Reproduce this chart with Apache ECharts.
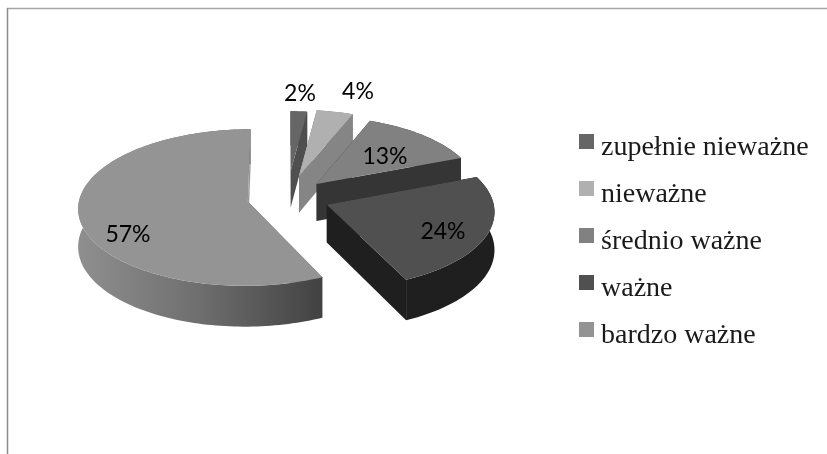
<!DOCTYPE html>
<html><head><meta charset="utf-8">
<style>html,body{margin:0;padding:0;background:#fff}#c{width:827px;height:454px}</style>
<script src="https://cdn.jsdelivr.net/npm/echarts@6/dist/echarts.min.js"></script>
</head><body><div id="c"></div>
<script>
const categories = ['zupełnie nieważne','nieważne','średnio ważne','ważne','bardzo ważne'];
const values = [2,4,13,24,57];
const labels = ['2%','4%','13%','24%','57%'];
const topColors = ['#666666','#b0b0b0','#818181','#505050','#949494'];
const wallColors = ['#4f4f4f','#858585','#353535','#1f1f1f','#555555'];
const explode = [0.35,0.29,0.25,0.25,0.235];
const radiusScale = [0.86,0.95,0.955,0.975,0.99];
const labelPos = [[300,94],[358,92],[385,157],[443,232],[128,235]];

const P = {cx:287, cy:197.5, R:170, Rv:78, k:0.0776, depth:37.5, start:0};
const total = values.reduce((a,b)=>a+b,0);
function project(X,Y,down){
  const s = 1/(1-P.k*Y);
  return [P.cx+P.R*X*s, P.cy+P.Rv*Y*s+(down?P.depth*s:0)];
}
function sliceItem(i){
  return function(params, api){
    let before = 0; for(let j=0;j<i;j++) before += values[j];
    const a0 = (P.start+before/total*360)*Math.PI/180;
    const a1 = (P.start+(before+values[i])/total*360)*Math.PI/180;
    const mid = (a0+a1)/2, e = explode[i], rs = radiusScale[i];
    const ox = Math.sin(mid)*e, oy = -Math.cos(mid)*e;
    const pt = (a,r,down)=>project(ox+Math.sin(a)*r*rs, oy-Math.cos(a)*r*rs, down);
    const n = Math.max(4,Math.ceil((a1-a0)*40));
    const arcTop=[],arcBot=[];
    for(let t=0;t<=n;t++){const a=a0+(a1-a0)*t/n;arcTop.push(pt(a,1,false));arcBot.push(pt(a,1,true));}
    const apexT = pt(0,0,false), apexB = pt(0,0,true);
    const wall = wallColors[i];
    let outerFill = wall;
    if(i===4) outerFill = {type:'linear',x:0,y:0,x2:1,y2:0,colorStops:[{offset:0,color:'#8f8f8f'},{offset:0.5,color:'#6e6e6e'},{offset:1,color:'#424242'}]};
    const poly=(points,fill)=>({type:'polygon',shape:{points},style:{fill,stroke:null},silent:true});
    const children=[
      poly([apexT,arcTop[0],arcBot[0],apexB],wall),
      poly(arcTop.concat(arcBot.slice().reverse()),outerFill),
      poly([apexT,arcTop[n],arcBot[n],apexB],i===4?'#999999':wall),
      poly([apexT].concat(arcTop),topColors[i])
    ];
    children.push({type:'text',silent:true,z2:100,style:{x:labelPos[i][0],y:labelPos[i][1],text:labels[i],fill:'#000',font:'23px Lato',align:'center',verticalAlign:'middle'}});
    return {type:'group',children};
  };
}
const chart = echarts.init(document.getElementById('c'),null,{renderer:'canvas'});
chart.setOption({
  animation:false,
  backgroundColor:'#fff',
  legend:{
    orient:'vertical',left:579,top:134,itemWidth:15,itemHeight:28,itemGap:19,
    icon:'path://M0 0H15V15H0Z M0 28H0.01V28Z',padding:0,selectedMode:false,
    data:categories,
    textStyle:{fontFamily:'Liberation Serif',fontSize:28,lineHeight:28,color:'#1a1a1a',padding:[0,0,0,2]}
  },
  graphic:[
    {type:'line',silent:true,shape:{x1:7,y1:8.5,x2:827,y2:8.5},style:{stroke:'#a6a6a6',lineWidth:1.5}},
    {type:'line',silent:true,shape:{x1:7.5,y1:8,x2:7.5,y2:454},style:{stroke:'#8c8c8c',lineWidth:1.5}}
  ],
  series:categories.map((name,i)=>({
    type:'custom',name,coordinateSystem:'none',data:[values[i]],
    itemStyle:{color:topColors[i]},renderItem:sliceItem(i),silent:true,z:i+2
  }))
});
</script></body></html>
